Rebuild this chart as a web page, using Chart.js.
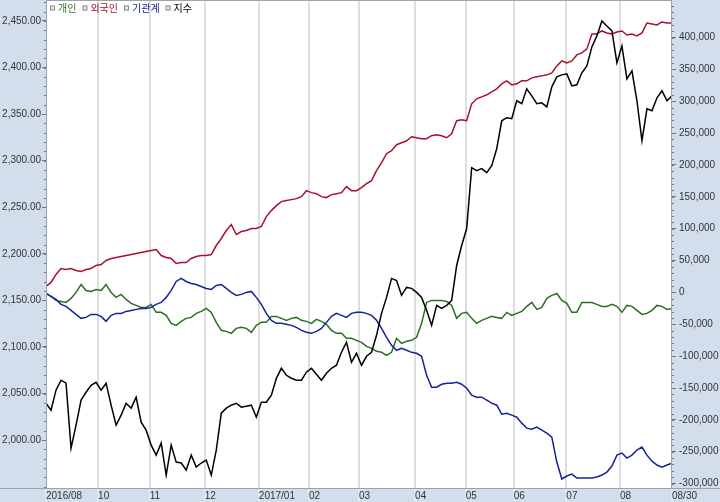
<!DOCTYPE html>
<html>
<head>
<meta charset="utf-8">
<script src="https://cdn.jsdelivr.net/npm/chart.js@4.4.1/dist/chart.umd.min.js"></script>
<style>
html,body{margin:0;padding:0;background:#fff;}
canvas{display:block;}
</style>
</head>
<body>
<canvas id="c" width="720" height="502"></canvas>
<script>
// ---- data ----
const seriesNames = ['개인', '외국인', '기관계', '지수'];
const monthLabels = ['2016/08', '10', '11', '12', '2017/01', '02', '03', '04', '05', '06', '07', '08', '08/30'];
const monthIndex = [0, 10.4, 20.7, 31.7, 42.5, 52.5, 62.5, 73.7, 83.8, 93.4, 103.9, 114.6, 125];
const leftTicks = [2000, 2050, 2100, 2150, 2200, 2250, 2300, 2350, 2400, 2450];
const rightTicks = [-300000, -250000, -200000, -150000, -100000, -50000, 0, 50000, 100000, 150000, 200000, 250000, 300000, 350000, 400000];

// 개인 (individuals, cumulative net buying)
const individual = [
  -1600, -6300, -12500, -14100, -15700, -9400, 0, 12500, 3100, 1600,
  4700, 3100, 12500, 0, -7800, -3100, -11000, -17200, -20400, -23500,
  -23500, -18800, -31300, -31300, -36000, -48500, -51700, -45400, -40700, -39200,
  -32900, -29800, -25100, -31300, -47000, -59500, -61100, -64200, -56400, -54800,
  -56400, -62600, -51700, -47000, -47000, -37600, -37600, -40700, -43800, -40700,
  -39200, -43800, -45400, -48500, -42300, -45400, -50100, -59500, -64200, -64200,
  -72000, -72000, -75200, -78300, -84600, -87700, -92400, -94000, -98700, -94000,
  -72000, -79900, -76700, -75200, -70500, -48500, -15700, -12500, -12500, -12500,
  -14100, -20400, -40700, -32900, -31300, -40700, -48500, -43800, -40700, -37600,
  -39200, -40700, -31300, -36000, -32900, -29800, -21900, -15700, -26600, -23500,
  -9400, -4700, -1600, -12500, -17200, -31300, -31300, -15700, -15700, -15700,
  -18800, -21900, -21900, -18800, -21900, -31300, -20400, -21900, -28200, -34500,
  -32900, -28200, -20400, -21900, -26600, -25100
];
// 외국인 (foreigners)
const foreign = [
  9400, 15700, 28200, 37600, 36000, 37600, 34500, 32900, 36000, 37600,
  42300, 43800, 50100, 53200, 54800, 56400, 57900, 59500, 61100, 62600,
  64200, 65800, 67300, 57900, 54800, 53200, 45400, 47000, 47000, 53200,
  56400, 57900, 57900, 59500, 73600, 84600, 97100, 106500, 90800, 95500,
  97100, 100200, 100200, 103400, 119000, 128400, 136200, 142500, 144100, 145600,
  147200, 150300, 159700, 156600, 155000, 150300, 148800, 153500, 155000, 156600,
  166000, 159700, 159700, 164400, 170700, 175400, 191100, 203600, 217700, 222400,
  231800, 234900, 238000, 244300, 242700, 241200, 241200, 245900, 247400, 245900,
  242700, 249000, 269400, 270900, 269400, 296000, 303800, 306900, 310100, 314800,
  319500, 327300, 332000, 325700, 327300, 332000, 332000, 336700, 338300, 339800,
  341400, 344500, 355500, 363300, 360200, 363300, 372700, 375800, 382100, 405600,
  405600, 410300, 407200, 405600, 408700, 410300, 404000, 405600, 402500, 407200,
  422800, 421300, 419700, 424400, 422800, 422800
];
// 기관계 (institutions)
const institution = [
  -1600, -6300, -11000, -18800, -21900, -28200, -34500, -40700, -39200, -34500,
  -34500, -37600, -45400, -36000, -32900, -32900, -29800, -28200, -26600, -25100,
  -25100, -23500, -18800, -15700, -7800, 3100, 17200, 21900, 17200, 14100,
  12500, 9400, 6300, 4700, 11000, 12500, 6300, 0, -4700, -3100,
  0, 1600, -7800, -18800, -32900, -43800, -48500, -48500, -50100, -51700,
  -54800, -59500, -62600, -64200, -61100, -56400, -47000, -37600, -32900, -36000,
  -39200, -32900, -31300, -31300, -32900, -36000, -43800, -56400, -70500, -83000,
  -90800, -87700, -90800, -94000, -95500, -100200, -130000, -148800, -148800, -144100,
  -142500, -142500, -140900, -144100, -150300, -161300, -164400, -164400, -169100, -173800,
  -177000, -191100, -189500, -192600, -195800, -205100, -213000, -214500, -211400, -216100,
  -220800, -227100, -266200, -292800, -288100, -285000, -291300, -291300, -291300, -291300,
  -289700, -286600, -281900, -272500, -255300, -252100, -260000, -255300, -247400, -242700,
  -255300, -264700, -270900, -274100, -270900, -267800
];
// 지수 (KOSPI index)
const kospi = [
  2039.6, 2032.1, 2053.6, 2064.3, 2061.1, 1991.4, 2016.1, 2042.9, 2051.4, 2058.9,
  2062.1, 2053.6, 2061.1, 2037.5, 2016.1, 2026.8, 2039.6, 2034.3, 2046.1, 2019.3,
  2010.7, 1994.6, 1983.9, 1996.8, 1962.5, 1994.6, 1976.4, 1975.4, 1967.9, 1983.9,
  1971.1, 1975.4, 1978.6, 1962.5, 1989.3, 2028.9, 2034.3, 2037.5, 2039.6, 2035.4,
  2036.4, 2037.5, 2024.6, 2040.7, 2040.7, 2048.2, 2066.4, 2077.1, 2069.6, 2066.4,
  2064.3, 2064.3, 2072.9, 2077.1, 2070.7, 2064.3, 2071.8, 2077.1, 2080.4, 2094.3,
  2105.0, 2083.6, 2093.2, 2080.4, 2090.0, 2094.3, 2112.5, 2136.1, 2153.2, 2173.6,
  2171.4, 2155.4, 2163.9, 2162.9, 2158.6, 2153.2, 2139.3, 2123.2, 2144.6, 2141.4,
  2144.6, 2150.0, 2187.5, 2208.9, 2227.1, 2292.5, 2289.3, 2291.4, 2287.1, 2294.6,
  2312.8, 2342.8, 2346.1, 2345.0, 2364.3, 2361.1, 2377.1, 2369.6, 2361.1, 2362.1,
  2357.8, 2379.3, 2390.0, 2392.1, 2393.2, 2380.3, 2381.4, 2394.3, 2401.8, 2422.1,
  2433.9, 2450.0, 2444.6, 2439.3, 2405.0, 2423.2, 2387.8, 2396.4, 2364.3, 2321.4,
  2355.7, 2353.6, 2367.5, 2375.0, 2364.3, 2369.6
];

// ---- styles ----
const COLORS = ['#2b6e22', '#a8102c', '#16229a', '#000000'];
const PANEL = '#d3deed';
const TICK_FONT = {family: "'Liberation Sans Narrow','Liberation Sans',Arial,sans-serif", size: 10};

const toXY = arr => arr.map((v, i) => ({x: i, y: v}));

const fmtLeft = v => v.toLocaleString('en-US', {minimumFractionDigits: 2, maximumFractionDigits: 2});
const fmtRight = v => v.toLocaleString('en-US');

const noPad = s => { s.paddingTop = 0; s.paddingBottom = 0; s.paddingLeft = 0; s.paddingRight = 0; };

const framePlugin = {
  id: 'frame',
  beforeDraw(chart) {
    const {ctx, chartArea: a, width, height} = chart;
    ctx.save();
    ctx.fillStyle = PANEL;
    ctx.fillRect(0, 0, width, height);
    ctx.fillStyle = '#ffffff';
    ctx.fillRect(a.left, a.top, a.right - a.left, a.bottom - a.top);
    ctx.restore();
  },
  afterDraw(chart) {
    const {ctx, chartArea: a, width} = chart;
    ctx.save();
    // frame lines
    ctx.strokeStyle = '#9aa3ae';
    ctx.lineWidth = 1;
    ctx.beginPath();
    ctx.moveTo(a.left + 0.5, a.top); ctx.lineTo(a.left + 0.5, a.bottom);
    ctx.moveTo(a.right - 0.5, a.top); ctx.lineTo(a.right - 0.5, a.bottom);
    ctx.moveTo(a.left, a.top - 0.5); ctx.lineTo(a.right, a.top - 0.5);
    ctx.moveTo(0, a.bottom + 0.5); ctx.lineTo(width, a.bottom + 0.5);
    ctx.stroke();
    // minor ticks
    ctx.strokeStyle = '#6f7780';
    const yL = chart.scales.y, yR = chart.scales.y1;
    ctx.beginPath();
    for (let v = 1950; v <= 2470; v += 10) {
      const p = Math.round(yL.getPixelForValue(v)) + 0.5;
      ctx.moveTo(a.left - 2, p); ctx.lineTo(a.left, p);
    }
    for (let v = -300000; v <= 450000; v += 10000) {
      const p = Math.round(yR.getPixelForValue(v)) + 0.5;
      ctx.moveTo(a.right, p); ctx.lineTo(a.right + 2, p);
    }
    ctx.stroke();
    // legend
    ctx.font = "10px 'Noto Sans CJK KR', sans-serif";
    ctx.textBaseline = 'middle';
    let x = a.left + 4;
    const y = 8;
    seriesNames.forEach((name, i) => {
      ctx.fillStyle = '#e8e8e8';
      ctx.fillRect(x, y - 2.5, 5, 5);
      ctx.strokeStyle = '#8a8a8a';
      ctx.strokeRect(x + 0.5, y - 2.5 + 0.5, 4, 4);
      ctx.fillStyle = COLORS[i];
      ctx.fillText(name, x + 8, y);
      x += 8 + ctx.measureText(name).width + 6;
    });
    ctx.restore();
  }
};

const mk = (label, data, color, axis, order) => ({
  label, data: toXY(data), borderColor: color, backgroundColor: color,
  borderWidth: 1.5, pointRadius: 0, tension: 0, yAxisID: axis, order
});

new Chart(document.getElementById('c'), {
  type: 'line',
  data: {
    datasets: [
      mk(seriesNames[0], individual, COLORS[0], 'y1', 3),
      mk(seriesNames[1], foreign, COLORS[1], 'y1', 2),
      mk(seriesNames[2], institution, COLORS[2], 'y1', 1),
      mk(seriesNames[3], kospi, COLORS[3], 'y', 0)
    ]
  },
  options: {
    responsive: false,
    animation: false,
    events: [],
    layout: {padding: {top: 1, left: 0, right: 0, bottom: 0}},
    plugins: {legend: {display: false}, tooltip: {enabled: false}},
    scales: {
      x: {
        type: 'linear', min: 0, max: 125, position: 'bottom',
        afterBuildTicks: s => { s.ticks = monthIndex.map(v => ({value: v})); },
        afterFit: s => { s.height = 14; noPad(s); },
        ticks: {
          autoSkip: false, maxRotation: 0, align: 'start', padding: -12,
          color: '#333', font: TICK_FONT,
          callback: (v, i) => monthLabels[i]
        },
        grid: {
          color: c => (c.index === 0 || c.index === monthIndex.length - 1) ? 'rgba(0,0,0,0)' : '#dedede',
          lineWidth: 2, drawTicks: true, tickLength: 14, tickColor: '#eef2f8', tickWidth: 1
        },
        border: {display: false}
      },
      y: {
        position: 'left', min: 1948.6, max: 2471.4,
        afterBuildTicks: s => { s.ticks = leftTicks.map(v => ({value: v})); },
        afterFit: s => { s.width = 46; noPad(s); },
        ticks: {color: '#333', font: TICK_FONT, padding: 1, callback: v => fmtLeft(v)},
        grid: {drawOnChartArea: false, tickLength: 4, tickColor: '#6f7780'},
        border: {display: false}
      },
      y1: {
        position: 'right', min: -306900, max: 457300,
        afterBuildTicks: s => { s.ticks = rightTicks.map(v => ({value: v})); },
        afterFit: s => { s.width = 48; noPad(s); },
        ticks: {color: '#333', font: TICK_FONT, padding: 3, callback: v => fmtRight(v)},
        grid: {drawOnChartArea: false, tickLength: 4, tickColor: '#6f7780'},
        border: {display: false}
      }
    }
  },
  plugins: [framePlugin]
});
</script>
</body>
</html>
